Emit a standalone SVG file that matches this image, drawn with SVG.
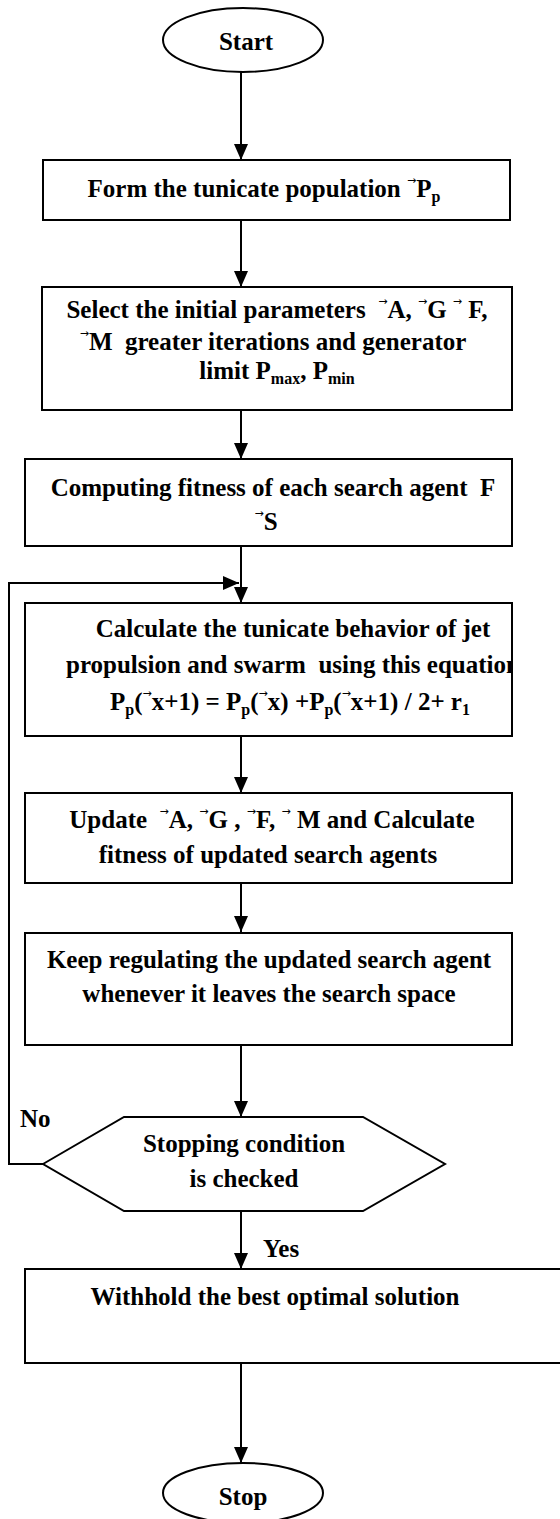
<svg xmlns="http://www.w3.org/2000/svg" width="560" height="1519" viewBox="0 0 560 1519">
<style>
.box{fill:#fff;stroke:#000;stroke-width:2}
.t{font-family:'Liberation Serif','Times New Roman',Tinos,serif;font-weight:700;font-size:25px;fill:#000;text-anchor:middle}
.l{text-anchor:start}
.v{font-family:'DejaVu Sans',sans-serif;font-weight:400;font-size:11px}
.s{font-size:16px}
.c{fill:none;stroke:#000;stroke-width:2}
</style>
<defs>
<marker id="ah" viewBox="0 0 16 14" refX="16" refY="7" markerWidth="16" markerHeight="14" markerUnits="userSpaceOnUse" orient="auto">
<path d="M0,0 L16,7 L0,14 z" fill="#000"/>
</marker>
<clipPath id="clip4"><rect x="25" y="603" width="487" height="133"/></clipPath>
</defs>
<rect width="560" height="1519" fill="#fff"/>
<g id="connectors" font-family="Liberation Serif, serif">
<path class="c" d="M241,72 V160" marker-end="url(#ah)"/>
<path class="c" d="M241,220 V287" marker-end="url(#ah)"/>
<path class="c" d="M241,410 V459" marker-end="url(#ah)"/>
<path class="c" d="M241,546 V603" marker-end="url(#ah)"/>
<path class="c" d="M241,736 V793" marker-end="url(#ah)"/>
<path class="c" d="M241,883 V932" marker-end="url(#ah)"/>
<path class="c" d="M241,1045 V1117" marker-end="url(#ah)"/>
<path class="c" d="M241,1211 V1269" marker-end="url(#ah)"/>
<path class="c" d="M241,1363 V1463" marker-end="url(#ah)"/>
<path class="c" d="M43,1164 H9 V583 H239" marker-end="url(#ah)"/>
<text class="t l" x="20" y="1127">No</text>
<text class="t l" x="263" y="1257">Yes</text>
</g>
<g id="start">
<ellipse class="box" cx="243" cy="40" rx="80" ry="32"/>
<text class="t" x="246" y="50">Start</text>
</g>
<g id="form">
<rect class="box" x="43" y="160" width="467" height="60"/>
<text class="t" x="264" y="197">Form the tunicate population <tspan class="v" dy="-13">→</tspan><tspan dy="13">P</tspan><tspan class="s" dy="5">p</tspan></text>
</g>
<g id="select">
<rect class="box" x="42" y="287" width="470" height="123"/>
<text class="t" x="277" y="318" xml:space="preserve">Select the initial parameters  <tspan class="v" dy="-13">→</tspan><tspan dy="13">A, </tspan><tspan class="v" dy="-13">→</tspan><tspan dy="13">G </tspan><tspan class="v" dy="-13">→</tspan><tspan dy="13"> F,</tspan></text>
<text class="t" x="273" y="350" xml:space="preserve"><tspan class="v" dy="-13">→</tspan><tspan dy="13">M  greater iterations and generator</tspan></text>
<text class="t" x="277" y="379">limit P<tspan class="s" dy="5">max</tspan><tspan dy="-5">, P</tspan><tspan class="s" dy="5">min</tspan></text>
</g>
<g id="fitness">
<rect class="box" x="25" y="459" width="487" height="87"/>
<text class="t" x="273" y="496" xml:space="preserve">Computing fitness of each search agent  F</text>
<text class="t" x="266" y="530"><tspan class="v" dy="-13">→</tspan><tspan dy="13">S</tspan></text>
</g>
<g id="behavior">
<rect class="box" x="25" y="603" width="487" height="133"/>
<text class="t" x="293" y="637">Calculate the tunicate behavior of jet</text>
<text class="t l" x="66" y="673" xml:space="preserve" clip-path="url(#clip4)">propulsion and swarm  using this equation</text>
<text class="t" x="290" y="710">P<tspan class="s" dy="5">p</tspan><tspan dy="-5">(</tspan><tspan class="v" dy="-13">→</tspan><tspan dy="13">x+1) = P</tspan><tspan class="s" dy="5">p</tspan><tspan dy="-5">(</tspan><tspan class="v" dy="-13">→</tspan><tspan dy="13">x) +P</tspan><tspan class="s" dy="5">p</tspan><tspan dy="-5">(</tspan><tspan class="v" dy="-13">→</tspan><tspan dy="13">x+1) / 2+ r</tspan><tspan class="s" dy="5">1</tspan></text>
</g>
<g id="update">
<rect class="box" x="25" y="793" width="487" height="90"/>
<text class="t" x="272" y="828" xml:space="preserve">Update  <tspan class="v" dy="-13">→</tspan><tspan dy="13">A, </tspan><tspan class="v" dy="-13">→</tspan><tspan dy="13">G , </tspan><tspan class="v" dy="-13">→</tspan><tspan dy="13">F, </tspan><tspan class="v" dy="-13">→</tspan><tspan dy="13"> M and Calculate</tspan></text>
<text class="t" x="268" y="863">fitness of updated search agents</text>
</g>
<g id="regulate">
<rect class="box" x="25" y="933" width="487" height="112"/>
<text class="t" x="269" y="968">Keep regulating the updated search agent</text>
<text class="t" x="269" y="1002">whenever it leaves the search space</text>
</g>
<g id="stopping">
<polygon class="box" points="43,1164 124,1117 363,1117 445,1164 363,1211 124,1211"/>
<text class="t" x="244" y="1152">Stopping condition</text>
<text class="t" x="244" y="1187">is checked</text>
</g>
<g id="withhold">
<rect class="box" x="25" y="1269" width="545" height="94"/>
<text class="t" x="275" y="1305">Withhold the best optimal solution</text>
</g>
<g id="stop">
<ellipse class="box" cx="243" cy="1493" rx="80" ry="30"/>
<text class="t" x="243" y="1505">Stop</text>
</g>
</svg>
